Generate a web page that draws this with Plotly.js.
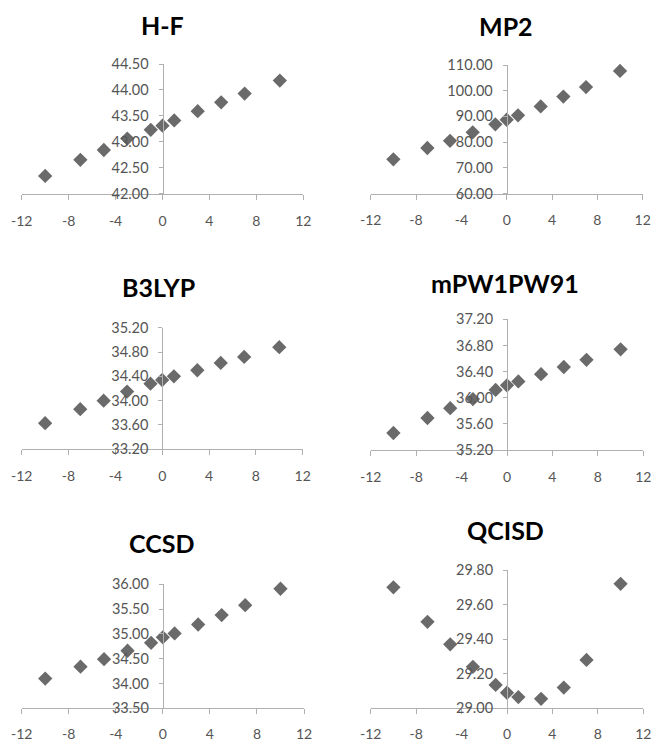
<!DOCTYPE html>
<html>
<head>
<meta charset="utf-8">
<script src="https://cdn.plot.ly/plotly-3.0.1.min.js"></script>
<style>html,body{margin:0;padding:0;background:#fff;}#chart{width:657px;height:743px;}</style>
</head>
<body>
<div id="chart"></div>
<script>
// Data
const titles = ["H-F", "MP2", "B3LYP", "mPW1PW91", "CCSD", "QCISD"];
const xVals = [-10, -7, -5, -3, -1, 0, 1, 3, 5, 7, 10];
const hf      = [42.34, 42.65, 42.84, 43.06, 43.23, 43.31, 43.41, 43.59, 43.76, 43.93, 44.18];
const mp2     = [73.3, 77.7, 80.5, 83.8, 86.9, 88.7, 90.4, 93.9, 97.7, 101.4, 107.7];
const b3lyp   = [33.63, 33.86, 34.00, 34.15, 34.28, 34.34, 34.40, 34.50, 34.62, 34.72, 34.88];
const mpw1pw91= [35.46, 35.69, 35.84, 35.98, 36.12, 36.19, 36.25, 36.36, 36.47, 36.58, 36.74];
const ccsd    = [34.10, 34.34, 34.49, 34.66, 34.82, 34.93, 35.01, 35.19, 35.38, 35.58, 35.91];
const qcisd   = [29.70, 29.50, 29.37, 29.24, 29.135, 29.09, 29.065, 29.055, 29.12, 29.28, 29.72];
const series = [hf, mp2, b3lyp, mpw1pw91, ccsd, qcisd];
const yRanges = [[42, 44.5], [60, 110], [33.2, 35.2], [35.2, 37.2], [33.5, 36], [29, 29.8]];
const yDticks = [0.5, 10, 0.4, 0.4, 0.5, 0.2];
const xTickVals = [-12, -8, -4, 0, 4, 8, 12];

// Layout (pixel boxes)
const W = 657, H = 743;
const boxes = [
  {x0: 21.7, x1: 303.3, yt: 64, yb: 193.5, tx: 162, ty: 25, so: 10},
  {x0: 370.7, x1: 642.7, yt: 65, yb: 193.5, tx: 506, ty: 26, so: 9},
  {x0: 21.7, x1: 302.7, yt: 327.7, yb: 449.3, tx: 158, ty: 287, so: 9},
  {x0: 370.7, x1: 643.3, yt: 319.3, yb: 450, tx: 505, ty: 283, so: 9},
  {x0: 21.7, x1: 304, yt: 584.3, yb: 708.3, tx: 161, ty: 543, so: 8},
  {x0: 370.7, x1: 643.3, yt: 570, yb: 708.3, tx: 505, ty: 530, so: 8}
];

const FONT = "Lato, 'Open Sans', sans-serif";
const TICKCOL = "#555555";
const LINECOL = "#b0b0b0";

const data = [];
const layout = {
  width: W, height: H,
  margin: {l: 0, r: 0, t: 0, b: 0},
  paper_bgcolor: "#ffffff",
  plot_bgcolor: "rgba(0,0,0,0)",
  showlegend: false,
  annotations: []
};

series.forEach((ys, i) => {
  const n = i + 1;
  const xa = "x" + (n === 1 ? "" : n);
  const ya = "y" + (n === 1 ? "" : n);
  data.push({
    type: "scatter", mode: "markers",
    x: xVals, y: ys,
    xaxis: xa, yaxis: ya,
    marker: {symbol: "diamond", size: 11, color: "#6a6a6a"},
    cliponaxis: false,
    hoverinfo: "x+y"
  });
  const b = boxes[i];
  const xd = [b.x0 / W, b.x1 / W];
  const yd = [1 - b.yb / H, 1 - b.yt / H];
  layout["xaxis" + (n === 1 ? "" : n)] = {
    domain: xd, anchor: ya, range: [-12, 12],
    tickvals: xTickVals, ticktext: xTickVals.map(String),
    showgrid: false, zeroline: false,
    showline: true, linecolor: LINECOL, linewidth: 1,
    ticks: "outside", ticklen: 5, tickcolor: LINECOL,
    ticklabelstandoff: b.so,
    tickfont: {family: FONT, size: 14, color: TICKCOL}
  };
  layout["yaxis" + (n === 1 ? "" : n)] = {
    domain: yd, anchor: "free", position: (xd[0] + xd[1]) / 2,
    range: yRanges[i], dtick: yDticks[i], tick0: yRanges[i][0],
    tickformat: ".2f",
    showgrid: false, zeroline: false,
    showline: true, linecolor: LINECOL, linewidth: 1,
    ticks: "outside", ticklen: 4, tickcolor: LINECOL,
    ticklabelstandoff: 7,
    tickfont: {family: FONT, size: 14.5, color: TICKCOL}
  };
  layout.annotations.push({
    text: "<b>" + titles[i] + "</b>",
    xref: "paper", yref: "paper",
    x: b.tx / W, y: 1 - b.ty / H,
    xanchor: "center", yanchor: "middle",
    showarrow: false,
    font: {family: FONT, size: 25, color: "#000000"}
  });
});

Plotly.newPlot("chart", data, layout, {displayModeBar: false, staticPlot: true});
</script>
</body>
</html>
